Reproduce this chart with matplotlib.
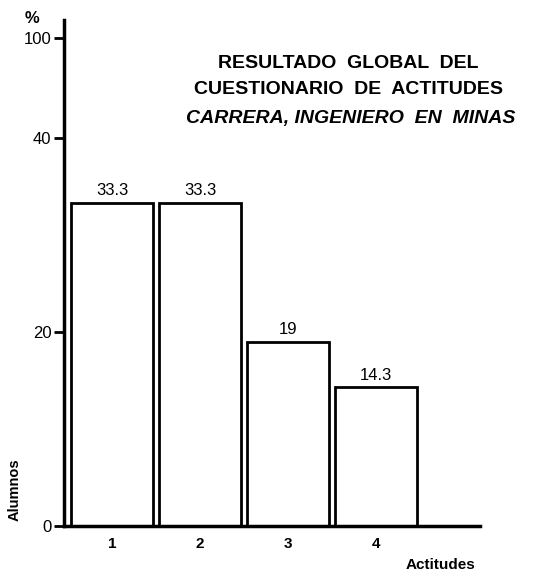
import matplotlib.pyplot as plt

# data
actitudes = ['1', '2', '3', '4']
porcentaje = [33.3, 33.3, 19, 14.3]
valor_txt = ['33.3', '33.3', '19', '14.3']
ytick_vals = [0, 20, 40, 50.3]  # the 100 tick sits above a break in the scale
ytick_txt = ['0', '20', '40', '100']

plt.rcParams['font.family'] = ['Liberation Sans', 'DejaVu Sans']

fig = plt.figure(figsize=(5.33, 5.73), dpi=100)
ax = fig.add_axes([0.120, 0.082, 0.781, 0.883])

x = [1, 2, 3, 4]
ax.bar(x, porcentaje, width=0.93, facecolor='white', edgecolor='black', linewidth=2)
for xi, v, t in zip(x, porcentaje, valor_txt):
    ax.text(xi, v + 0.5, t, ha='center', va='bottom', fontsize=12)

ax.set_xlim(0.455, 5.18)
ax.set_ylim(0, 52.2)
ax.set_xticks(x)
ax.set_xticklabels(actitudes, fontsize=11, fontweight='bold')
ax.tick_params(axis='x', length=0, pad=8)
ax.set_yticks(ytick_vals)
ax.set_yticklabels(ytick_txt, fontsize=12)
ax.tick_params(axis='y', length=7, width=2, pad=2)

for s in ['top', 'right']:
    ax.spines[s].set_visible(False)
for s in ['left', 'bottom']:
    ax.spines[s].set_linewidth(2.5)

fig.text(0.06, 0.968, '%', fontsize=12, fontweight='bold', ha='center', va='center')
fig.text(0.028, 0.145, 'Alumnos', rotation=90, fontsize=10.5, fontweight='bold', ha='center', va='center')
fig.text(0.827, 0.014, 'Actitudes', fontsize=11, fontweight='bold', ha='center', va='center')

fig.text(0.653, 0.89, 'RESULTADO  GLOBAL  DEL', fontsize=14, fontweight='bold', ha='center', va='center')
fig.text(0.653, 0.844, 'CUESTIONARIO  DE  ACTITUDES', fontsize=14, fontweight='bold', ha='center', va='center')
fig.text(0.658, 0.793, 'CARRERA, INGENIERO  EN  MINAS', fontsize=14, fontweight='bold', style='italic', ha='center', va='center')

fig.savefig('out.png', dpi=100)
